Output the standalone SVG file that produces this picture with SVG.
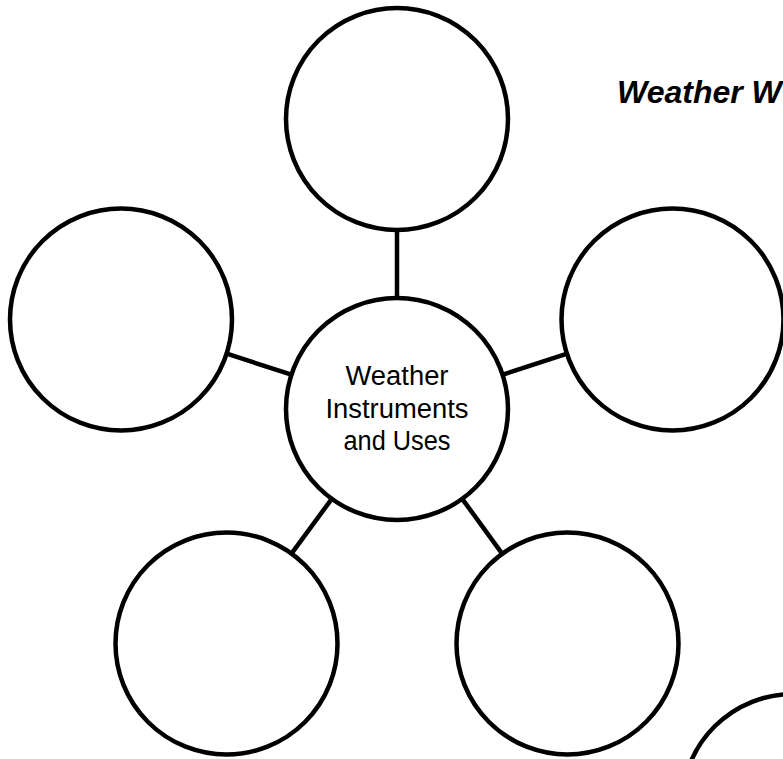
<svg xmlns="http://www.w3.org/2000/svg" width="783" height="759" viewBox="0 0 783 759">
<style>
.node{fill:#fff;stroke:#000;stroke-width:4.5}
.conn{stroke:#000;stroke-width:4.5;fill:none}
.lbl{font-family:"Liberation Sans",Arial,sans-serif;font-size:27px;fill:#000;text-anchor:middle}
.title{font-family:"Liberation Sans",Arial,sans-serif;font-size:32px;font-weight:bold;font-style:italic;fill:#000}
</style>
<rect width="783" height="759" fill="#fff"/>
<g id="connectors">
<line class="conn" x1="397" y1="298" x2="397" y2="230"/>
<line class="conn" x1="502.6" y1="374.7" x2="567.2" y2="353.7"/>
<line class="conn" x1="291.4" y1="374.7" x2="226.8" y2="353.7"/>
<line class="conn" x1="462.2" y1="498.8" x2="502.3" y2="553.8"/>
<line class="conn" x1="331.8" y1="498.8" x2="291.3" y2="553.8"/>
</g>
<g id="node-top"><circle class="node" cx="397" cy="119" r="111"/></g>
<g id="node-left"><circle class="node" cx="121" cy="319.5" r="111"/></g>
<g id="node-right"><circle class="node" cx="672.5" cy="319.5" r="111"/></g>
<g id="node-bottom-left"><circle class="node" cx="226.5" cy="643.5" r="111"/></g>
<g id="node-bottom-right"><circle class="node" cx="567.5" cy="643.5" r="111"/></g>
<g id="node-corner"><circle class="node" cx="793" cy="805" r="111"/></g>
<g id="node-center">
<circle class="node" cx="397" cy="409" r="111"/>
<text class="lbl" x="397" y="385" textLength="103" lengthAdjust="spacingAndGlyphs">Weather</text>
<text class="lbl" x="397" y="417.5" textLength="143" lengthAdjust="spacingAndGlyphs">Instruments</text>
<text class="lbl" x="397" y="450" textLength="107" lengthAdjust="spacingAndGlyphs">and Uses</text>
</g>
<g id="title"><text class="title" x="617" y="102.5">Weather W</text></g>
</svg>
